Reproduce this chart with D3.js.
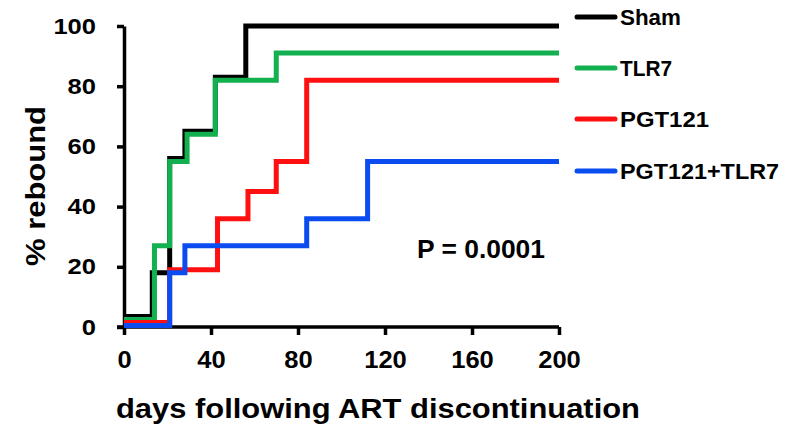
<!DOCTYPE html>
<html>
<head>
<meta charset="utf-8">
<script src="https://cdn.jsdelivr.net/npm/d3@7"></script>
<style>
  body { margin: 0; background: #fff; }
  text { font-family: Arial, "Liberation Sans", sans-serif; font-weight: bold; fill: #000; }
</style>
</head>
<body>
<div id="chart"></div>
<script>
// step data: [day, % rebound]
const shamData = [[0, 3.5], [13, 18], [21, 56], [28, 65], [42, 83], [56, 100], [200, 100]];
const tlr7Data = [[0, 2.5], [14, 27], [21, 55], [29, 64], [42, 82], [70, 91], [200, 91]];
const pgtData = [[0, 1.5], [21, 19], [43, 36], [57, 45], [70, 55], [84, 82], [200, 82]];
const comboData = [[0, 0.5], [21, 18], [28, 27], [84, 36], [112, 55], [200, 55]];

const groupNames = ["Sham", "TLR7", "PGT121", "PGT121+TLR7"];
const groupColors = ["#000000", "#12b04e", "#ff1010", "#0b4cf0"];
const xTicks = [0, 40, 80, 120, 160, 200];
const yTicks = [0, 20, 40, 60, 80, 100];

const width = 792, height = 427;

const svg = d3.select("#chart")
  .append("svg")
  .attr("width", width)
  .attr("height", height);

const x = d3.scaleLinear().domain([0, 200]).range([124, 559]);
const y = d3.scaleLinear().domain([0, 100]).range([327, 26]);

// the original font looks stretched sideways, so fix widths per digit
const digitW = 14.2;

// axes
const xAxis = svg.append("g")
  .attr("transform", "translate(0,327)")
  .call(d3.axisBottom(x).tickValues(xTicks).tickSize(8).tickPadding(14).tickSizeOuter(0));
xAxis.select(".domain").attr("stroke-width", 3.5).attr("d", "M117,0H" + x(200));
xAxis.selectAll(".tick line").attr("stroke-width", 3.5);
xAxis.selectAll(".tick text")
  .style("font-size", "24px")
  .attr("dy", "0.78em")
  .attr("textLength", d => String(d).length * digitW)
  .attr("lengthAdjust", "spacingAndGlyphs");

const yAxis = svg.append("g")
  .attr("transform", "translate(124,0)")
  .call(d3.axisLeft(y).tickValues(yTicks).tickSize(7).tickPadding(21).tickSizeOuter(0));
yAxis.select(".domain").attr("stroke-width", 3.5);
yAxis.selectAll(".tick line").attr("stroke-width", 3.5);
yAxis.selectAll(".tick text")
  .style("font-size", "22px")
  .attr("textLength", d => String(d).length * digitW)
  .attr("lengthAdjust", "spacingAndGlyphs");

// step lines
const line = d3.line()
  .x(d => x(d[0]))
  .y(d => y(d[1]))
  .curve(d3.curveStepAfter);

[shamData, tlr7Data, pgtData, comboData].forEach((data, i) => {
  svg.append("path")
    .datum(data)
    .attr("fill", "none")
    .attr("stroke", groupColors[i])
    .attr("stroke-width", 5)
    .attr("d", line);
});

// legend
const legend = svg.selectAll(".legend")
  .data(groupNames)
  .enter()
  .append("g")
  .attr("class", "legend")
  .attr("transform", (d, i) => `translate(0,${[17, 68, 119, 171][i]})`);

legend.append("line")
  .attr("x1", 577)
  .attr("x2", 615)
  .attr("stroke", (d, i) => groupColors[i])
  .attr("stroke-width", 5)
  .attr("stroke-linecap", "round");

legend.append("text")
  .attr("x", 620)
  .attr("dy", "0.36em")
  .style("font-size", "22px")
  .attr("textLength", (d, i) => [61, 52, 89, 159][i])
  .attr("lengthAdjust", "spacingAndGlyphs")
  .text(d => d);

// p value
svg.append("text")
  .attr("x", 417)
  .attr("y", 258)
  .style("font-size", "25px")
  .attr("textLength", 128)
  .attr("lengthAdjust", "spacingAndGlyphs")
  .text("P = 0.0001");

// axis titles
svg.append("text")
  .attr("x", 116)
  .attr("y", 418)
  .style("font-size", "27px")
  .attr("textLength", 524)
  .attr("lengthAdjust", "spacingAndGlyphs")
  .text("days following ART discontinuation");

svg.append("text")
  .attr("transform", "rotate(-90)")
  .attr("x", -186)
  .attr("y", 45)
  .attr("text-anchor", "middle")
  .style("font-size", "27px")
  .attr("textLength", 160)
  .attr("lengthAdjust", "spacingAndGlyphs")
  .text("% rebound");
</script>
</body>
</html>
